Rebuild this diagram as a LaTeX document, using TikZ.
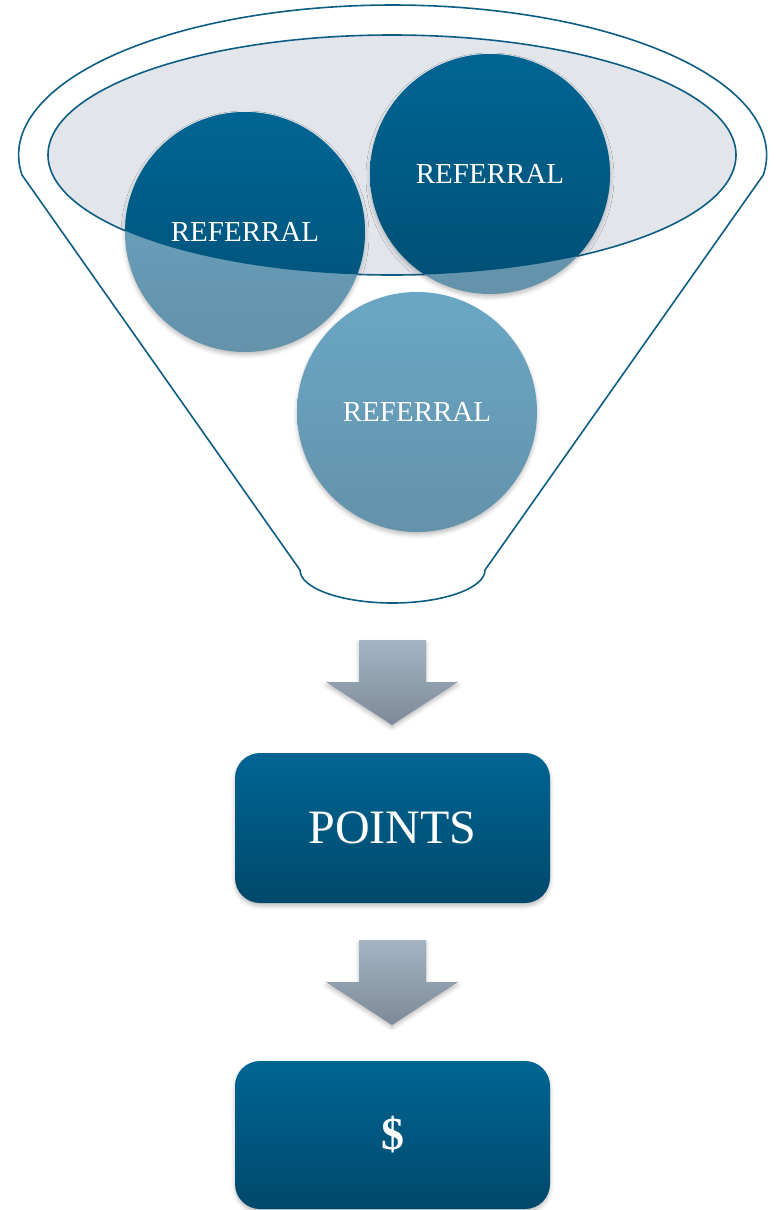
\documentclass[tikz,border=0pt]{standalone}
\usepackage{fontspec}
\setmainfont{Liberation Serif}
\usetikzlibrary{shadows.blur}
\definecolor{lineblue}{RGB}{14,94,132}
\definecolor{ellfill}{RGB}{226,230,235}
\definecolor{darktop}{RGB}{0,101,148}
\definecolor{darkbot}{RGB}{0,79,116}
\definecolor{lighttop}{RGB}{106,167,197}
\definecolor{lightbot}{RGB}{100,146,170}
\definecolor{arrtop}{RGB}{165,180,196}
\definecolor{arrbot}{RGB}{124,138,152}
\tikzset{
  funnelline/.style={draw=lineblue, line width=1.6pt, line join=round},
  softshadow/.style={blur shadow={shadow xshift=0pt, shadow yshift=-3pt, shadow opacity=25, shadow blur radius=4pt}},
  lightball/.style={top color=lighttop, bottom color=lightbot, softshadow},
  darkball/.style={top color=darktop, bottom color=darkbot},
  balltext/.style={circle, minimum size=240pt, inner sep=0pt, text=white, font=\fontsize{29}{34}\selectfont},
  stagebox/.style={rectangle, rounded corners=25pt, minimum width=315pt, text=white,
    top color=darktop, bottom color=darkbot!92!black, softshadow},
  downarrow/.style={top color=arrtop, bottom color=arrbot, softshadow}
}
\begin{document}
\begin{tikzpicture}[x=1pt,y=1pt]
\useasboundingbox (0,0) rectangle (776,-1210);
% funnel outline
\draw[funnelline] (22,-175) arc[start angle=187.66, end angle=-7.66, x radius=374, y radius=150]
  -- (485,-570) arc[start angle=0, end angle=-180, x radius=92.5, y radius=33] -- cycle;
% inner ellipse
\filldraw[fill=ellfill, funnelline] (392,-155) ellipse [x radius=344, y radius=120];
% light circles
\shade[lightball] (245,-232) circle[radius=120];
\shade[lightball] (490,-174) circle[radius=120];
\shade[lightball] (417,-412) circle[radius=120];
% dark parts inside the ellipse
\begin{scope}
  \clip (392,-155) ellipse [x radius=344, y radius=120];
  \shade[darkball] (245,-232) circle[radius=120];
  \shade[darkball] (490,-174) circle[radius=120];
\end{scope}
% labels
\node[balltext] (c1) at (245,-232) {REFERRAL};
\node[balltext] (c2) at (490,-174) {REFERRAL};
\node[balltext] (c3) at (417,-412) {REFERRAL};
% arrows
\shade[downarrow] (359,-640) -- (426,-640) -- (426,-682) -- (458,-682) -- (392,-725) -- (326,-682) -- (359,-682) -- cycle;
\shade[downarrow] (359,-940) -- (426,-940) -- (426,-982) -- (458,-982) -- (392,-1025) -- (326,-982) -- (359,-982) -- cycle;
% boxes
\node[stagebox, minimum height=150pt, font=\fontsize{48}{56}\selectfont] (points) at (392.5,-828) {POINTS};
\node[stagebox, minimum height=148pt, font=\fontsize{46}{52}\selectfont] (dollar) at (392.5,-1135) {\textbf{\$}};
\end{tikzpicture}
\end{document}
